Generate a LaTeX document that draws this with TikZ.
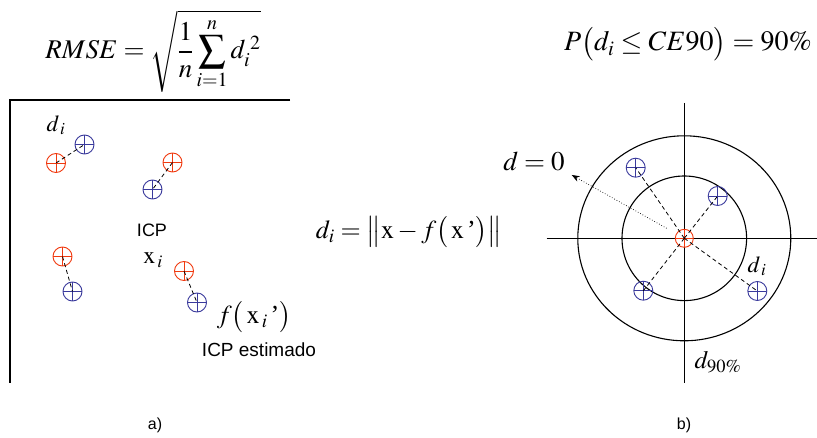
\documentclass[tikz,border=0pt]{standalone}
\usepackage{mathptmx}
\usepackage{fontspec}
\setmainfont{Liberation Serif}
\newfontfamily\arial{Liberation Sans}
\usetikzlibrary{arrows.meta}
\definecolor{ptred}{HTML}{F03A10}
\definecolor{ptblue}{HTML}{3A3A9C}
\newcommand\sprime{\textrm{\char"27}}
\tikzset{
  mark base/.style={circle, draw, line width=0.9pt, inner sep=0pt, minimum size=19pt},
  redpt/.style={mark base, draw=ptred, path picture={\draw[ptred,line width=0.8pt] (path picture bounding box.north)--(path picture bounding box.south)
       (path picture bounding box.west)--(path picture bounding box.east);}},
  bluept/.style={mark base, draw=ptblue, path picture={\draw[ptblue,line width=0.8pt] (path picture bounding box.north)--(path picture bounding box.south)
       (path picture bounding box.west)--(path picture bounding box.east);}},
  link/.style={draw=black, line width=0.8pt, dash pattern=on 4pt off 3pt},
  axis/.style={draw=black, line width=1.1pt},
  ring/.style={draw=black, line width=1.1pt},
  lbl/.style={inner sep=0pt, font=\arial\fontsize{18}{21}\selectfont},
  mth/.style={inner sep=0pt}
}
\begin{document}
\begin{tikzpicture}[x=1pt,y=-1pt]
\useasboundingbox (0,0) rectangle (817,438);
% formulas
\node[mth] (rmse) at (153,51) {\fontsize{27}{31}\selectfont $\displaystyle RMSE=\sqrt{\frac{1}{n}\sum_{i=1}^{n} d_i^{\;2}}$};
\node[mth] (prob) at (688,44) {\fontsize{28}{32}\selectfont $P\bigl(d_i\le CE90\bigr)=90\%$};
\node[mth] (dist) at (409,232) {\fontsize{26}{30}\selectfont $d_i=\bigl\|\mathrm{x}-f\bigl(\,\mathrm{x}\,\sprime\bigr)\bigr\|$};
% left frame
\coordinate (fl) at (10,100);
\coordinate (fr) at (290,100);
\coordinate (fb) at (10,383);
\draw[axis] (fr) -- (fl) -- (fb);
% points left
\node[redpt] (r1) at (56,163) {};
\node[bluept] (b1) at (84.5,144.5) {};
\node[redpt] (r2) at (172.5,162.5) {};
\node[bluept] (b2) at (152.5,189.5) {};
\node[redpt] (r3) at (62.5,256.5) {};
\node[bluept] (b3) at (72.5,291.5) {};
\node[redpt] (r4) at (184,271) {};
\node[bluept] (b4) at (197,302.5) {};
\draw[link] (r1.center) -- (b1.center);
\draw[link] (r2.center) -- (b2.center);
\draw[link] (r3.center) -- (b3.center);
\draw[link] (r4.center) -- (b4.center);
\node[mth] (ldi) at (56,125) {\fontsize{23}{26}\selectfont $d_{\,i}$};
\node[lbl] (icp) at (152,230) {ICP};
\node[mth] (lxi) at (153,260) {\fontsize{24}{28}\selectfont $\mathrm{x}_{\,i}$};
\node[mth] (lfx) at (254,317) {\fontsize{26}{30}\selectfont $f\bigl(\,\mathrm{x}_{\,i}\,\sprime\bigr)$};
\node[lbl, font=\arial\fontsize{19}{22}\selectfont] (icpe) at (259,350) {ICP estimado};
% right panel
\coordinate (c0) at (684.3,238.3);
\coordinate (vt) at (684.3,103);
\coordinate (vb) at (684.3,383);
\coordinate (hl) at (546.5,238.3);
\coordinate (hr) at (817,238.3);
\draw[axis] (vt) -- (vb);
\draw[axis] (hl) -- (hr);
\draw[ring] (c0) ellipse [x radius=106.5, y radius=102.5];
\draw[ring] (c0) circle [radius=62.3];
\node[bluept] (q1) at (635.7,167.7) {};
\node[bluept] (q2) at (717.7,196) {};
\node[bluept] (q3) at (643.3,290.7) {};
\node[bluept] (q4) at (757.3,291) {};
\node[redpt, minimum size=18pt] (cc) at (c0) {};
\draw[link] (cc.center) -- (q1.center);
\draw[link] (cc.center) -- (q2.center);
\draw[link] (cc.center) -- (q3.center);
\draw[link] (cc.center) -- (q4.center);
\coordinate (as) at (666.7,228.3);
\coordinate (ae) at (571.7,175);
\draw[line width=0.7pt, dotted, -{Stealth[length=8pt,width=6pt]}] (as) -- (ae);
\node[mth] (d0) at (534,161.5) {\fontsize{27}{30}\selectfont $d=0$};
\node[mth] (rdi) at (757,266) {\fontsize{23}{26}\selectfont $d_{\,i}$};
\node[mth] (d90) at (718,362) {\fontsize{25}{28}\selectfont $d_{90\%}$};
% captions
\node[lbl, font=\arial\fontsize{16}{19}\selectfont] (ca) at (155,425) {a)};
\node[lbl, font=\arial\fontsize{16}{19}\selectfont] (cb) at (684,425) {b)};
\end{tikzpicture}
\end{document}
